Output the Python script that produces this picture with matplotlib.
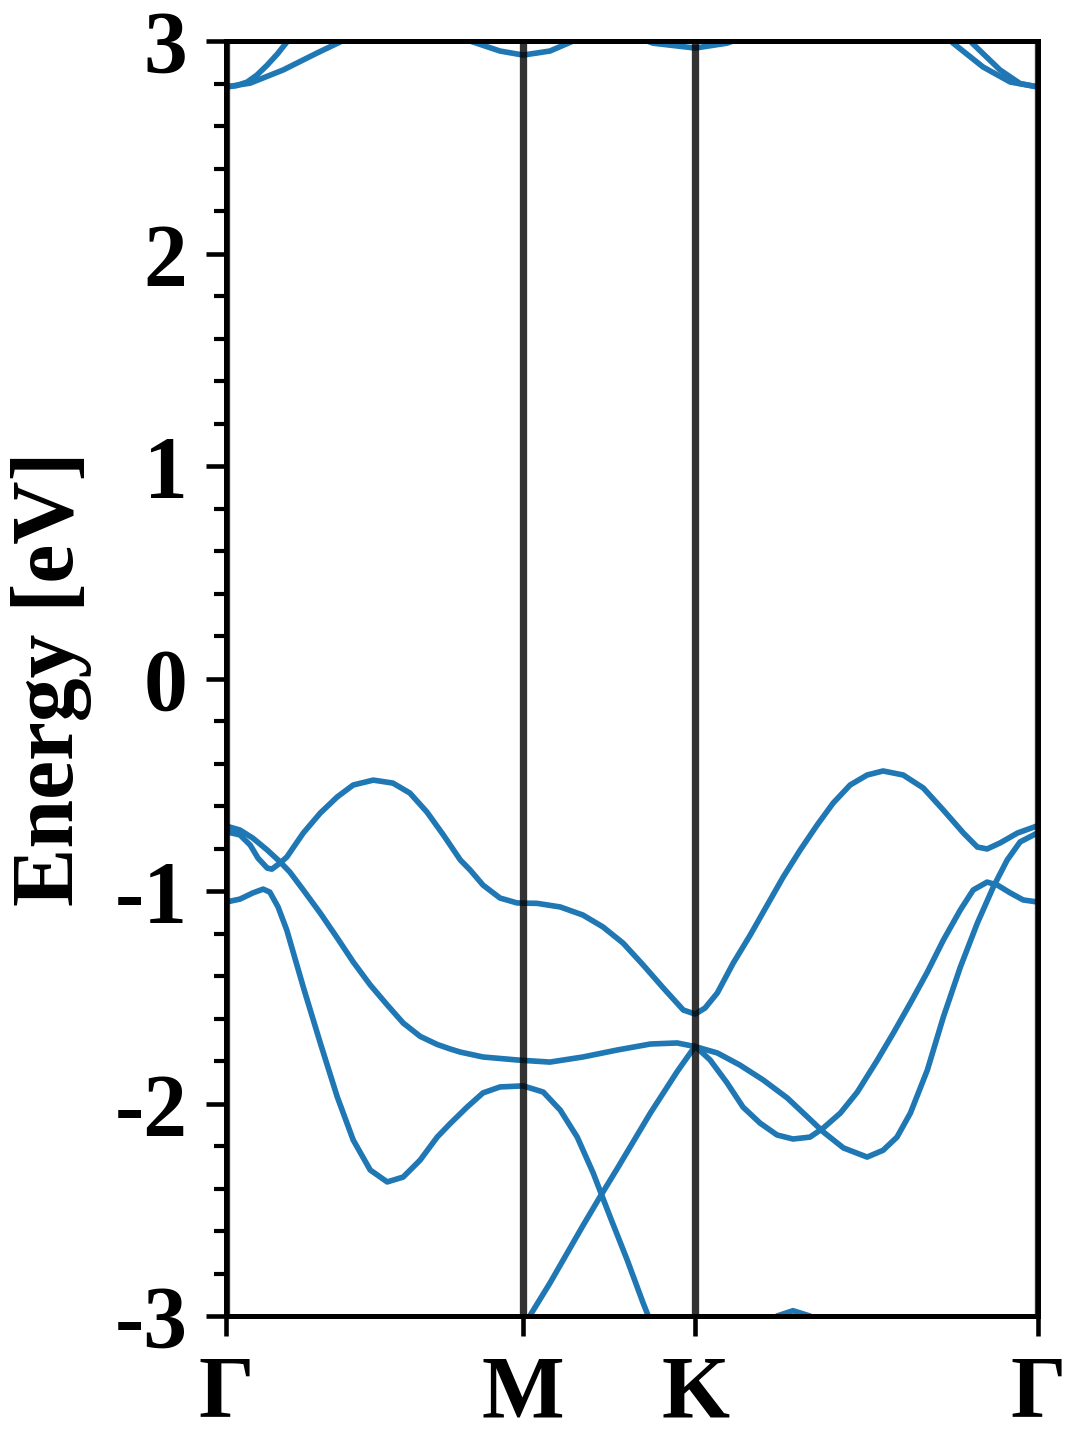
import numpy as np
import matplotlib
matplotlib.use("Agg")
import matplotlib.pyplot as plt
from matplotlib.ticker import MultipleLocator

plt.rcParams['font.family'] = ['Liberation Serif', 'DejaVu Serif']
plt.rcParams['font.weight'] = 'bold'
plt.rcParams['axes.unicode_minus'] = False

# high symmetry points along the hexagonal path G-M-K-G
k_labels = ['Γ', 'M', 'K', 'Γ']
k_ticks = [0.0, 0.577, 0.911, 1.577]

# bands (k along path, energy in eV)
v1_k = [0.000, 0.027, 0.047, 0.062, 0.080, 0.089, 0.105, 0.118, 0.150, 0.183, 0.216,
        0.247, 0.286, 0.324, 0.357, 0.390, 0.422, 0.455, 0.474, 0.499, 0.532, 0.565,
        0.577, 0.604, 0.649, 0.693, 0.732, 0.771, 0.810, 0.849, 0.888, 0.911, 0.930,
        0.954, 0.985, 1.018, 1.051, 1.082, 1.115, 1.148, 1.179, 1.212, 1.245, 1.276,
        1.315, 1.354, 1.393, 1.432, 1.459, 1.478, 1.503, 1.537, 1.577]
v1_e = [-0.721, -0.736, -0.784, -0.845, -0.892, -0.897, -0.868, -0.840, -0.727, -0.633, -0.557,
        -0.501, -0.478, -0.492, -0.539, -0.628, -0.736, -0.854, -0.901, -0.972, -1.033, -1.056,
        -1.057, -1.058, -1.075, -1.113, -1.169, -1.245, -1.348, -1.456, -1.560, -1.579, -1.551,
        -1.480, -1.339, -1.207, -1.066, -0.934, -0.807, -0.689, -0.586, -0.501, -0.454, -0.435,
        -0.454, -0.515, -0.619, -0.727, -0.793, -0.802, -0.774, -0.727, -0.692]

v2_k = [0.000, 0.027, 0.052, 0.080, 0.105, 0.124, 0.150, 0.183, 0.216, 0.247, 0.280,
        0.313, 0.344, 0.377, 0.410, 0.435, 0.455, 0.499, 0.565, 0.577, 0.629, 0.693,
        0.760, 0.824, 0.876, 0.911, 0.954, 0.998, 1.043, 1.090, 1.129, 1.160, 1.199,
        1.245, 1.276, 1.303, 1.329, 1.362, 1.393, 1.426, 1.459, 1.490, 1.517, 1.542,
        1.577]
v2_e = [-0.694, -0.713, -0.751, -0.807, -0.863, -0.911, -0.995, -1.104, -1.221, -1.334, -1.442,
        -1.536, -1.621, -1.684, -1.722, -1.743, -1.758, -1.781, -1.795, -1.797, -1.805, -1.781,
        -1.748, -1.720, -1.715, -1.732, -1.762, -1.819, -1.889, -1.974, -2.063, -2.134, -2.209,
        -2.252, -2.220, -2.158, -2.045, -1.842, -1.593, -1.358, -1.151, -0.981, -0.854, -0.769,
        -0.725]

v3_k = [0.000, 0.027, 0.052, 0.072, 0.085, 0.101, 0.118, 0.150, 0.183, 0.216, 0.247,
        0.280, 0.313, 0.344, 0.377, 0.410, 0.435, 0.468, 0.499, 0.532, 0.577, 0.616,
        0.649, 0.682, 0.713, 0.746, 0.779, 0.810, 0.843]
v3_e = [-1.052, -1.038, -1.009, -0.991, -1.005, -1.075, -1.184, -1.452, -1.715, -1.969, -2.172,
        -2.313, -2.369, -2.346, -2.266, -2.158, -2.095, -2.017, -1.950, -1.922, -1.917, -1.946,
        -2.031, -2.158, -2.327, -2.534, -2.736, -2.939, -3.14]

v4_k = [0.577, 0.591, 0.629, 0.693, 0.726, 0.760, 0.824, 0.876, 0.911, 0.940, 0.973,
        1.004, 1.037, 1.070, 1.101, 1.134, 1.160, 1.193, 1.226, 1.265, 1.296, 1.329,
        1.362, 1.393, 1.426, 1.451, 1.478, 1.498, 1.523, 1.548, 1.577]
v4_e = [-3.055, -2.995, -2.845, -2.575, -2.440, -2.305, -2.045, -1.850, -1.730, -1.795, -1.903,
        -2.017, -2.092, -2.148, -2.167, -2.158, -2.115, -2.045, -1.946, -1.795, -1.668, -1.527,
        -1.381, -1.231, -1.089, -0.995, -0.958, -0.972, -1.009, -1.042, -1.052]

v5_k = [1.018, 1.070, 1.101, 1.134, 1.193]
v5_e = [-3.12, -3.0, -2.975, -3.0, -3.12]

c1_k = [0.000, 0.020, 0.041, 0.060, 0.080, 0.100, 0.118, 0.144]
c1_e = [2.784, 2.790, 2.807, 2.840, 2.887, 2.940, 2.995, 3.08]
c2_k = [0.000, 0.047, 0.111, 0.177, 0.221, 0.260]
c2_e = [2.784, 2.802, 2.864, 2.944, 2.995, 3.05]
c3_k = [0.445, 0.474, 0.532, 0.577, 0.629, 0.674, 0.707]
c3_e = [3.06, 3.0, 2.953, 2.934, 2.953, 3.0, 3.06]
c4_k = [0.785, 0.829, 0.911, 0.973, 1.018]
c4_e = [3.03, 2.99, 2.967, 2.99, 3.03]
c5_k = [1.387, 1.412, 1.470, 1.523, 1.577]
c5_e = [3.05, 2.99, 2.878, 2.807, 2.784]
c6_k = [1.426, 1.449, 1.503, 1.542, 1.577]
c6_e = [3.05, 2.99, 2.864, 2.80, 2.784]

bands = [(v1_k, v1_e), (v2_k, v2_e), (v3_k, v3_e), (v4_k, v4_e), (v5_k, v5_e),
         (c1_k, c1_e), (c2_k, c2_e), (c3_k, c3_e), (c4_k, c4_e), (c5_k, c5_e), (c6_k, c6_e)]

fig = plt.figure(figsize=(7.2, 9.6), dpi=150)
ax = fig.add_axes([0.2093, 0.0861, 0.7519, 0.8854])

for kk, ee in bands:
    ax.plot(kk, ee, color='#1f77b4', lw=2.7, solid_joinstyle='round', solid_capstyle='round')

for k in k_ticks:
    ax.axvline(k, color='k', alpha=0.8, lw=3.5)

ax.set_xlim(k_ticks[0], k_ticks[-1])
ax.set_ylim(-3, 3)
ax.set_xticks(k_ticks)
ax.set_xticklabels(k_labels)
ax.yaxis.set_major_locator(MultipleLocator(1))
ax.yaxis.set_minor_locator(MultipleLocator(0.2))
ax.set_ylabel('Energy [eV]', fontsize=42, fontweight='bold', labelpad=11)

ax.tick_params(axis='both', which='major', labelsize=42, length=9.5, width=2.2, pad=9, direction='out')
ax.tick_params(axis='y', which='minor', length=6, width=2.0, direction='out')
for lab in ax.get_xticklabels() + ax.get_yticklabels():
    lab.set_fontweight('bold')
for s in ax.spines.values():
    s.set_linewidth(2.4)

fig.savefig('out.png', dpi=150)
